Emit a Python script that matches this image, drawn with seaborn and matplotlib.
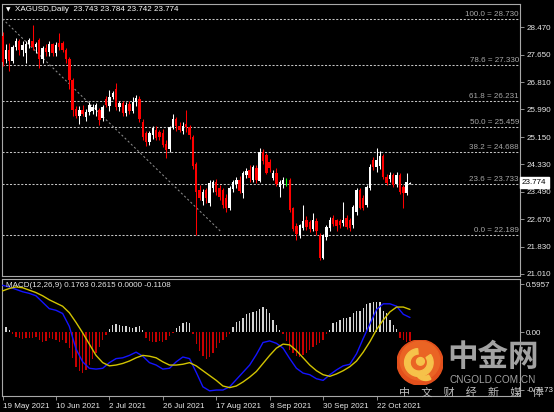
import numpy as np
import pandas as pd
import matplotlib
matplotlib.use('Agg')
import matplotlib.pyplot as plt
import seaborn as sns
from matplotlib.patches import Circle, Wedge

# daily XAGUSD candles, 19 May 2021 .. 5 Nov 2021 (one row per trading day)
opens = [28.22, 27.50, 27.80, 27.45, 27.88, 28.05, 27.78, 27.70, 27.98, 28.05,
         27.88, 28.10, 27.50, 27.85, 27.72, 27.98, 27.70, 28.00, 28.00, 27.80,
         27.50, 26.88, 26.00, 25.78, 25.98, 25.75, 25.90, 25.95, 25.98, 25.97,
         25.73, 26.30, 26.10, 26.35, 26.60, 26.06, 26.18, 25.88, 26.15, 25.95,
         26.20, 26.30, 25.62, 25.28, 25.00, 25.22, 25.37, 25.30, 25.28, 24.95,
         24.78, 25.45, 25.70, 25.50, 25.35, 25.55, 25.45, 25.15, 24.35, 23.55,
         23.22, 23.55, 23.15, 23.62, 23.78, 23.62, 23.55, 23.30, 23.00, 23.58,
         23.72, 23.85, 23.45, 24.00, 24.15, 23.85, 24.22, 23.82, 24.70, 24.62,
         24.40, 23.90, 24.08, 23.64, 23.72, 23.82, 23.85, 23.02, 22.45, 22.20,
         22.40, 22.64, 22.58, 22.36, 22.62, 22.19, 21.50, 22.13, 22.40, 22.70,
         22.64, 22.60, 22.55, 22.70, 22.64, 22.49, 22.88, 23.55, 23.31, 23.10,
         23.61, 24.46, 24.25, 24.28, 24.58, 23.94, 23.88, 24.00, 23.73, 24.00,
         23.64, 23.46, 23.743]
highs = [28.32, 27.98, 28.00, 27.95, 28.15, 28.12, 28.05, 28.05, 28.15, 28.55,
         28.02, 28.15, 27.92, 27.98, 28.05, 28.00, 28.02, 28.30, 28.05, 27.85,
         27.58, 26.95, 26.10, 26.08, 26.12, 26.00, 26.20, 26.15, 26.18, 26.02,
         26.12, 26.40, 26.58, 26.55, 26.79, 26.25, 26.25, 26.22, 26.25, 26.35,
         26.42, 26.38, 25.70, 25.35, 25.35, 25.50, 25.50, 25.38, 25.40, 25.05,
         25.50, 25.85, 25.75, 25.62, 25.60, 25.97, 25.52, 25.22, 24.40, 23.70,
         23.58, 23.62, 23.85, 23.85, 23.88, 23.70, 23.60, 23.42, 23.68, 23.85,
         23.95, 23.98, 24.12, 24.22, 24.30, 24.32, 24.30, 24.82, 24.78, 24.68,
         24.48, 24.15, 24.22, 23.85, 23.95, 23.92, 23.92, 23.05, 22.55, 22.52,
         23.10, 22.75, 22.65, 22.85, 22.70, 22.25, 22.22, 22.50, 22.72, 22.80,
         22.68, 22.68, 23.19, 22.78, 22.70, 23.10, 23.60, 23.62, 23.40, 23.70,
         24.35, 24.55, 24.82, 24.72, 24.65, 24.02, 24.10, 24.08, 24.10, 24.05,
         23.70, 24.07, 23.784]
lows = [27.30, 27.40, 27.15, 27.40, 27.78, 27.65, 27.60, 27.40, 27.85, 27.80,
        27.70, 27.24, 27.40, 27.62, 27.60, 27.62, 27.60, 27.80, 27.72, 27.40,
        26.62, 25.78, 25.72, 25.55, 25.80, 25.65, 25.82, 25.85, 25.78, 25.52,
        25.65, 26.05, 25.95, 26.30, 25.98, 25.95, 25.80, 25.80, 25.85, 25.88,
        26.10, 25.62, 25.05, 24.88, 24.90, 25.10, 25.05, 25.05, 24.85, 24.52,
        24.70, 25.40, 25.35, 25.30, 25.25, 25.30, 25.10, 24.18, 22.19, 23.25,
        23.10, 23.15, 23.08, 23.50, 23.40, 23.25, 23.00, 22.88, 22.95, 23.50,
        23.62, 23.45, 23.30, 23.90, 23.78, 23.80, 23.75, 23.78, 24.35, 24.02,
        24.10, 23.85, 23.68, 23.34, 23.60, 23.68, 22.88, 22.30, 22.04, 22.10,
        22.35, 22.35, 22.28, 22.30, 22.20, 21.43, 21.45, 22.05, 22.30, 22.45,
        22.30, 22.40, 22.45, 22.38, 22.30, 22.40, 22.80, 22.98, 22.95, 23.05,
        23.55, 24.15, 24.10, 24.20, 23.88, 23.70, 23.80, 23.65, 23.65, 23.42,
        23.00, 23.40, 23.742]
closes = [27.42, 27.78, 27.45, 27.88, 28.05, 27.78, 27.95, 27.98, 28.08, 27.88,
          27.98, 27.50, 27.85, 27.72, 27.98, 27.70, 27.95, 27.88, 27.80, 27.50,
          26.88, 25.98, 25.80, 25.98, 25.85, 25.92, 26.12, 26.06, 26.12, 25.67,
          26.06, 26.12, 26.36, 26.48, 26.06, 26.18, 25.88, 26.12, 25.95, 26.22,
          26.33, 25.70, 25.15, 25.00, 25.28, 25.43, 25.12, 25.15, 24.92, 24.75,
          25.45, 25.70, 25.48, 25.38, 25.50, 25.45, 25.22, 24.28, 23.50, 23.32,
          23.48, 23.30, 23.76, 23.78, 23.50, 23.33, 23.10, 23.02, 23.60, 23.78,
          23.85, 23.52, 24.05, 24.12, 23.92, 24.25, 23.85, 24.70, 24.42, 24.08,
          24.22, 24.05, 23.72, 23.79, 23.85, 23.82, 22.95, 22.38, 22.22, 22.48,
          22.62, 22.42, 22.36, 22.64, 22.30, 21.50, 22.18, 22.43, 22.64, 22.52,
          22.45, 22.48, 22.64, 22.43, 22.40, 23.04, 23.55, 23.01, 23.02, 23.64,
          24.25, 24.25, 24.45, 24.58, 23.94, 23.76, 24.00, 23.70, 24.00, 23.49,
          23.46, 23.79, 23.774]

# MACD(12,26,9) histogram, one value per bar
macd_hist = [0.11, 0.06, 0.02, -0.02, -0.06, -0.08, -0.09, -0.08, -0.07, -0.07,
             -0.06, -0.10, -0.12, -0.11, -0.08, -0.09, -0.10, -0.12, -0.10, -0.14,
             -0.20, -0.32, -0.44, -0.48, -0.51, -0.47, -0.41, -0.33, -0.26, -0.18,
             -0.10, -0.04, 0.04, 0.09, 0.10, 0.09, 0.08, 0.07, 0.06, 0.05,
             0.06, 0.08, 0.03, -0.07, -0.11, -0.13, -0.12, -0.11, -0.12, -0.10,
             -0.05, -0.01, 0.05, 0.08, 0.11, 0.12, 0.11, -0.02, -0.15, -0.24,
             -0.30, -0.34, -0.31, -0.26, -0.20, -0.14, -0.10, -0.06, -0.02, 0.06,
             0.12, 0.14, 0.18, 0.22, 0.23, 0.25, 0.26, 0.28, 0.31, 0.29,
             0.23, 0.15, 0.09, 0.02, -0.02, -0.11, -0.22, -0.26, -0.30, -0.31,
             -0.28, -0.26, -0.22, -0.18, -0.16, -0.14, -0.10, -0.03, 0.03, 0.11,
             0.13, 0.15, 0.17, 0.17, 0.19, 0.23, 0.26, 0.26, 0.30, 0.35,
             0.36, 0.37, 0.37, 0.37, 0.26, 0.24, 0.15, 0.09, 0.04, -0.07,
             -0.10, -0.12, -0.11]

# MACD main (blue) and signal (yellow) read every second bar
line_bars = list(range(0, 123, 2))
macd_main = [0.58, 0.56, 0.53, 0.50, 0.48, 0.45, 0.37, 0.29, 0.27, 0.23,
             0.07, -0.21, -0.37, -0.45, -0.46, -0.45, -0.38, -0.33, -0.32, -0.29,
             -0.25, -0.30, -0.38, -0.41, -0.46, -0.45, -0.37, -0.31, -0.33, -0.50,
             -0.68, -0.73, -0.72, -0.72, -0.68, -0.59, -0.50, -0.41, -0.28, -0.13,
             -0.11, -0.14, -0.20, -0.33, -0.45, -0.51, -0.53, -0.58, -0.60, -0.53,
             -0.47, -0.42, -0.40, -0.27, -0.08, 0.10, 0.28, 0.35, 0.35, 0.32,
             0.22, 0.18]
macd_signal = [0.51, 0.54, 0.56, 0.55, 0.52, 0.49, 0.45, 0.40, 0.36, 0.32,
               0.24, 0.12, -0.01, -0.15, -0.29, -0.38, -0.42, -0.41, -0.39, -0.36,
               -0.32, -0.29, -0.30, -0.32, -0.37, -0.41, -0.41, -0.40, -0.38, -0.42,
               -0.48, -0.54, -0.60, -0.67, -0.69, -0.67, -0.62, -0.56, -0.49, -0.39,
               -0.29, -0.20, -0.15, -0.16, -0.23, -0.32, -0.41, -0.48, -0.53, -0.55,
               -0.52, -0.48, -0.43, -0.36, -0.25, -0.12, 0.03, 0.15, 0.25, 0.31,
               0.31, 0.28]

# fibonacci retracement from 28.730 down to 22.189
fib_pcts = ['100.0', '78.6', '61.8', '50.0', '38.2', '23.6', '0.0']
fib_levels = [28.730, 27.330, 26.231, 25.459, 24.688, 23.733, 22.189]
fib_trend_x = [0, 65.4]
fib_trend_y = [28.730, 22.29]

price_ticks = [28.470, 27.650, 26.810, 25.990, 25.150, 24.330, 23.490, 22.670, 21.830, 21.010]
date_ticks = [0, 16, 32, 48, 64, 80, 96, 112]
date_labels = ['19 May 2021', '10 Jun 2021', '2 Jul 2021', '26 Jul 2021',
               '17 Aug 2021', '8 Sep 2021', '30 Sep 2021', '22 Oct 2021']
last_price = 23.774

sns.set_theme(style='dark', rc={'axes.facecolor': 'black', 'figure.facecolor': 'black',
                                'savefig.facecolor': 'black', 'axes.grid': False})
plt.rcParams['font.family'] = ['Liberation Sans', 'DejaVu Sans']

W, H = 554, 412
FS = 5.8
GRAY = '#a8a8a8'

df = pd.DataFrame({'open': opens, 'high': highs, 'low': lows, 'close': closes})
df['bar'] = np.arange(len(df))
col = np.where(df.close > df.open, '#ffffff',
               np.where(df.close < df.open, '#ff0000', '#00ff00'))
body = (df.close - df.open).where(df.close != df.open, 0.012)

fig = plt.figure(figsize=(W / 100, H / 100), dpi=100)
ax = fig.add_axes([2 / W, 1 - 276 / H, 518 / W, 272 / H])
ax2 = fig.add_axes([2 / W, 1 - 396 / H, 518 / W, 117 / H])

# candles
ax.vlines(df.bar, df.low, df.high, colors=col, lw=0.75, zorder=3)
ax.bar(df.bar, body, bottom=df.open, width=0.72, color=col, linewidth=0, zorder=4)

# fib levels
for pct, lev in zip(fib_pcts, fib_levels):
    ax.axhline(lev, color='#c4c4c4', lw=0.75, ls=(0, (2, 1.6)), zorder=2)
    ax.text(0.998, lev + 0.03, '%s = %.3f' % (pct, lev), transform=ax.get_yaxis_transform(),
            ha='right', va='bottom', fontsize=FS, color='#a8a8a8')
ax.plot(fib_trend_x, fib_trend_y, color='#8a8a8a', lw=0.75, ls=(0, (2, 2.2)), zorder=2)

ax.set_xlim(-0.15, 154.94)
ax.set_ylim(20.948, 29.179)
ax.yaxis.tick_right()
ax.set_yticks(price_ticks)
ax.set_yticklabels(['%.3f' % p for p in price_ticks])
ax.tick_params(axis='y', right=True, left=False, length=3, width=0.6, color=GRAY,
               labelsize=FS, labelcolor='#e8e8e8', pad=1.5)
ax.tick_params(axis='x', bottom=False, labelbottom=False)

ax.text(1.004, last_price, '%.3f' % last_price, transform=ax.get_yaxis_transform(),
        ha='left', va='center', fontsize=FS, color='black', zorder=10,
        bbox=dict(facecolor='white', edgecolor='white', boxstyle='square,pad=0.25'),
        clip_on=False)

# MACD panel
hcol = np.where(np.array(macd_hist) >= 0, '#d4d4d4', '#c80000')
ax2.bar(np.arange(len(macd_hist)), macd_hist, width=0.4, color=hcol, linewidth=0, zorder=2)
mdf = pd.DataFrame({'bar': line_bars, 'main': macd_main, 'signal': macd_signal})
sns.lineplot(data=mdf, x='bar', y='main', color='#1414ff', lw=1.0, ax=ax2, zorder=3)
sns.lineplot(data=mdf, x='bar', y='signal', color='#d2c400', lw=1.0, ax=ax2, zorder=3)
ax2.set_xlabel('')
ax2.set_ylabel('')
ax2.set_xlim(-0.15, 154.94)
ax2.set_ylim(-0.794, 0.658)
ax2.yaxis.tick_right()
ax2.set_yticks([0.5957, 0.0, -0.7173])
ax2.set_yticklabels(['0.5957', '0.00', '-0.7173'])
ax2.tick_params(axis='y', right=True, left=False, length=3, width=0.6, color=GRAY,
                labelsize=FS, labelcolor='#e8e8e8', pad=1.5)
ax2.set_xticks(date_ticks)
ax2.set_xticklabels(date_labels, ha='left')
ax2.tick_params(axis='x', bottom=True, length=3, width=0.6, color=GRAY,
                labelsize=FS, labelcolor='#e8e8e8', pad=2)

for a in (ax, ax2):
    for s in a.spines.values():
        s.set_color(GRAY)
        s.set_linewidth(0.8)

# header texts
fig.text(5.5 / W, 1 - 9.8 / H, '\u25bc', fontsize=4.2, color='white', va='center',
         family=['DejaVu Sans'])
fig.text(15 / W, 1 - 9.8 / H, 'XAGUSD,Daily  23.743 23.784 23.742 23.774',
         fontsize=FS, color='white', va='center')
fig.text(6 / W, 1 - 285.5 / H, 'MACD(12,26,9) 0.1763 0.2615 0.0000 -0.1108',
         fontsize=FS, color='#e8e8e8', va='center')

# watermark
lax = fig.add_axes([397 / W, 1 - 385 / H, 46 / W, 45 / H])
lax.set_xlim(-1, 1)
lax.set_ylim(-1, 1)
lax.axis('off')
lax.add_patch(Circle((0, 0), 1.0, color='#e3501c'))
lax.add_patch(Circle((0, 0.08), 0.86, color='#ea6424'))
lax.add_patch(Wedge((-0.05, 0.0), 0.62, 95, 395, width=0.24, color='#f6c24a'))
lax.add_patch(Circle((0.02, 0.05), 0.17, color='#f6c24a'))
lax.add_patch(Wedge((0.25, -0.35), 0.45, 200, 300, width=0.2, color='#f6c24a'))

fig.text(447 / W, 1 - 357 / H, '中金网', fontsize=22, fontweight='bold', color='#a2a2a2',
         va='center', family=['Noto Sans CJK SC'])
fig.text(449 / W, 1 - 380 / H, 'CNGOLD.COM.CN', fontsize=7.2, color='#a2a2a2',
         va='center')
fig.text(399 / W, 1 - 392 / H, '中\u3000文\u3000财\u3000经\u3000新\u3000媒\u3000体', fontsize=8,
         color='#bcbcbc', va='center', family=['Noto Sans CJK SC'], zorder=20)

fig.savefig('out.png', dpi=100, facecolor='black')
